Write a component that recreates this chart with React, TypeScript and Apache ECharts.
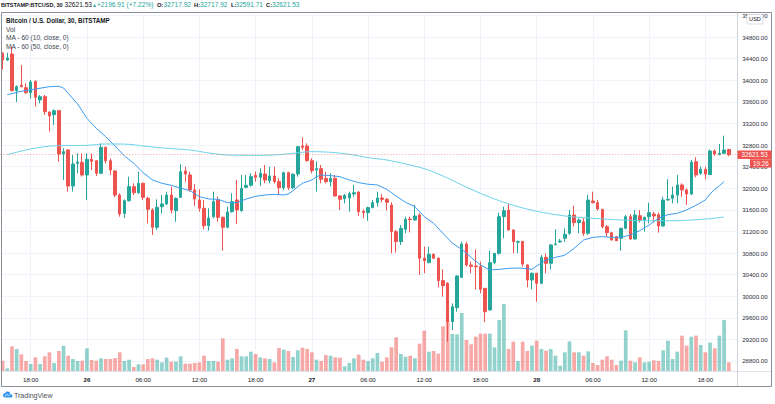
import React, { useEffect, useRef } from 'react';
import * as echarts from 'echarts';

// ---- data (30-minute candles, 25 Jan 15:00 → 28 Jan 20:30) ----
const opens = [
  34498, 34375, 34486, 33806, 33906, 33862, 33769, 33980, 33634, 33695,
  33411, 33362, 33436, 32634, 32708, 32041, 32461, 32480, 32245, 32535,
  32510, 32276, 32757, 32510, 32319, 31874, 31534, 31769, 32029, 31917,
  32091, 31813, 31597, 31276, 31658, 31708, 31874, 31584, 31831, 32319,
  32245, 31967, 31782, 31628, 31306, 31473, 31782, 31461, 31276, 31565,
  31782, 31584, 32016, 32053, 32239, 32202, 32263, 32140, 32226, 32121,
  32010, 32288, 32010, 32263, 32782, 32782, 32510, 32337, 32362, 32183,
  32121, 32183, 31856, 31807, 31819, 31893, 31930, 31572, 31547, 31640,
  31732, 31819, 31794, 31689, 31195, 31010, 31239, 31430, 31411, 31504,
  30702, 30621, 30776, 30702, 30288, 30239, 29528, 29787, 30350, 30967,
  30578, 30560, 30547, 30146, 29745, 30621, 30794, 31473, 31597, 31226,
  31000, 31016, 30578, 30300, 30424, 30239, 30720, 30609, 30955, 31004,
  31072, 31165, 31504, 31362, 31380, 31165, 31763, 31732, 31609, 31288,
  31177, 31103, 31072, 31257, 31473, 31059, 31491, 31411, 31473, 31522,
  31510, 31300, 31782, 31813, 31874, 32060, 31967, 31893, 32491, 32276,
  32350, 32251, 32689, 32621, 32646, 32717.92,
];
const closes = [
  34375, 34412, 33806, 33880, 33880, 33769, 33967, 33684, 33695, 33417,
  33337, 33436, 32634, 32677, 32041, 32448, 32485, 32245, 32535, 32498,
  32276, 32757, 32510, 32337, 31874, 31522, 31769, 32029, 31917, 32091,
  31831, 31609, 31276, 31646, 31708, 31874, 31597, 31813, 32306, 32263,
  31967, 31800, 31628, 31306, 31448, 31751, 31461, 31276, 31559, 31751,
  31597, 31998, 32053, 32214, 32202, 32276, 32152, 32226, 32121, 32010,
  32288, 32010, 32257, 32769, 32757, 32510, 32325, 32362, 32165, 32121,
  32183, 31856, 31794, 31868, 31899, 31917, 31565, 31547, 31640, 31732,
  31819, 31794, 31739, 31195, 31010, 31257, 31424, 31420, 31485, 30702,
  30658, 30776, 30702, 30288, 30195, 29528, 29806, 30374, 30967, 30578,
  30553, 30547, 30128, 29713, 30621, 30794, 31473, 31584, 31226, 31010,
  31010, 30596, 30300, 30424, 30239, 30720, 30609, 30948, 30967, 31022,
  31146, 31504, 31362, 31411, 31165, 31782, 31732, 31615, 31288, 31177,
  31041, 31028, 31257, 31473, 31059, 31504, 31411, 31461, 31547, 31485,
  31300, 31782, 31794, 31874, 32060, 31967, 31893, 32480, 32245, 32350,
  32263, 32689, 32634, 32646, 32708, 32621.53,
];
const lows = [
  34202, 34360, 33790, 33597, 33870, 33745, 33658, 33510, 33572, 33356,
  33047, 33171, 32491, 32152, 31936, 31936, 32276, 32214, 31782, 32337,
  32226, 32263, 32461, 32245, 31831, 31473, 31443, 31751, 31874, 31893,
  31782, 31350, 31134, 31226, 31534, 31689, 31534, 31380, 31820, 32121,
  31936, 31671, 31565, 31239, 31214, 31443, 31380, 30843, 31260, 31547,
  31337, 31565, 31998, 32029, 32121, 32041, 32091, 32091, 32091, 31874,
  31967, 31967, 31979, 32214, 32708, 32491, 32276, 31936, 32091, 32091,
  32029, 31843, 31597, 31720, 31565, 31843, 31485, 31443, 31398, 31628,
  31658, 31739, 31584, 30794, 30806, 30948, 31165, 31183, 31400, 30393,
  30424, 30609, 30690, 30164, 29991, 29157, 29374, 29713, 30340, 30547,
  30424, 30121, 30054, 29516, 29740, 30590, 30770, 31072, 31220, 30794,
  30794, 30547, 30164, 30128, 29898, 30230, 30424, 30498, 30940, 30990,
  31010, 31134, 31288, 31165, 31115, 31134, 31720, 31584, 31257, 31103,
  31030, 31022, 30843, 31240, 31041, 31050, 31362, 31195, 31350, 31362,
  31177, 31288, 31763, 31720, 31720, 31843, 31689, 31874, 32202, 32245,
  32165, 32245, 32597, 32610, 32640, 32591.71,
];
const highs = [
  34520, 34510, 34621, 33906, 34282, 33943, 34004, 33995, 33726, 33726,
  33420, 33460, 33450, 32739, 32720, 32615, 32646, 32646, 32646, 32646,
  32523, 32831, 32769, 32554, 32337, 31905, 31794, 32214, 32091, 32306,
  32103, 31843, 31628, 31794, 31874, 31936, 32029, 31830, 32448, 32399,
  32306, 32078, 31979, 31782, 31628, 31936, 31843, 31473, 31658, 31905,
  32152, 32245, 32245, 32276, 32306, 32368, 32430, 32399, 32399, 32183,
  32306, 32306, 32276, 32782, 32942, 32831, 32554, 32497, 32430, 32306,
  32276, 32245, 31874, 31893, 31936, 32060, 31936, 31609, 31658, 31782,
  31936, 31893, 31819, 31739, 31226, 31319, 31473, 31473, 31689, 31535,
  30917, 30917, 30794, 30720, 30500, 30260, 29868, 30390, 31010, 31010,
  30640, 30869, 30640, 30150, 30843, 30800, 31547, 31658, 31708, 31240,
  31030, 31016, 30590, 30440, 30430, 30763, 30794, 30967, 31239, 31060,
  31257, 31597, 31676, 31443, 31443, 31874, 31936, 31782, 31615, 31319,
  31190, 31115, 31270, 31504, 31522, 31597, 31597, 31470, 31732, 31565,
  31547, 31843, 32165, 32029, 32245, 32091, 31998, 32523, 32572, 32399,
  32399, 32720, 32720, 32819, 32973, 32717.92,
];
const volumes = [
  155, 40, 370, 330, 250, 150, 105, 205, 105, 220,
  280, 120, 300, 380, 230, 180, 150, 155, 340, 165,
  155, 190, 180, 180, 195, 280, 150, 170, 60, 100,
  100, 180, 190, 170, 130, 200, 140, 140, 220, 110,
  110, 120, 130, 230, 150, 150, 140, 490, 170, 190,
  330, 220, 220, 290, 255, 205, 190, 180, 130, 345,
  320, 300, 210, 310, 350, 330, 280, 170, 150, 240,
  230, 205, 200, 70, 120, 190, 245, 170, 150, 190,
  270, 140, 205, 355, 505, 255, 215, 230, 190, 410,
  605, 290, 300, 260, 670, 755, 555, 550, 870, 465,
  400, 515, 560, 560, 560, 355, 765, 1005, 330, 440,
  150, 440, 300, 380, 455, 330, 305, 330, 230, 80,
  280, 445, 280, 280, 230, 295, 120, 90, 170, 220,
  170, 90, 155, 610, 155, 130, 205, 130, 140, 160,
  150, 310, 455, 180, 290, 530, 380, 515, 530, 390,
  280, 425, 340, 530, 765, 130,
];
const ma10 = [
  [1, 33732], [4, 33794], [7, 33837], [10, 33880], [12, 33887], [13, 33856], [14, 33757],
  [16, 33560], [18, 33294], [20, 33109], [22, 32954], [24, 32782], [26, 32597], [28, 32461],
  [30, 32288], [32, 32152], [34, 32091], [36, 32053], [38, 32004], [40, 31954], [42, 31843],
  [44, 31800], [46, 31794], [48, 31732], [50, 31732], [52, 31800], [54, 31850], [56, 31874],
  [58, 31887], [60, 31874], [61, 31893], [62, 31954], [63, 32029], [64, 32091], [66, 32152],
  [67, 32214], [68, 32245], [70, 32233], [72, 32214], [74, 32152], [76, 32103], [78, 32073],
  [80, 32060], [82, 31979], [84, 31856], [86, 31739], [88, 31658], [90, 31473], [92, 31350],
  [94, 31165], [96, 30980], [98, 30869], [100, 30720], [102, 30578], [104, 30485], [106, 30497],
  [108, 30516], [110, 30522], [112, 30510], [113, 30497], [114, 30559], [116, 30670], [118, 30720],
  [120, 30758], [122, 30887], [124, 31041], [126, 31090], [128, 31103], [130, 31090], [132, 31090],
  [134, 31134], [136, 31214], [138, 31319], [140, 31443], [142, 31510], [144, 31534], [146, 31597],
  [148, 31683], [150, 31782], [151, 31893], [152, 31979], [153, 32047], [154, 32121],
];
const ma50 = [
  [1, 32621], [5, 32708], [9, 32770], [12, 32788], [18, 32794], [22, 32819], [27, 32813],
  [30, 32782], [35, 32739], [40, 32708], [44, 32652], [48, 32615], [54, 32609], [58, 32615],
  [62, 32646], [66, 32677], [70, 32665], [74, 32628], [78, 32566], [79, 32553], [82, 32523],
  [86, 32448], [90, 32362], [94, 32226], [98, 32060], [102, 31905], [106, 31769], [110, 31658],
  [114, 31572], [119, 31498], [122, 31467], [126, 31443], [132, 31411], [138, 31398], [144, 31398],
  [148, 31417], [151, 31436], [154, 31467],
];
const priceTicks = [28800, 29200, 29600, 30000, 30400, 30800, 31200, 31600, 32000, 32400, 32800, 33200, 33600, 34000, 34400, 34800, 35200];
const timeTickIdx = [6, 18, 30, 42, 54, 66, 78, 90, 102, 114, 126, 138, 150];
const timeTickLabels = ['18:00', '26', '06:00', '12:00', '18:00', '27', '06:00', '12:00', '18:00', '28', '06:00', '12:00', '18:00'];
const dayLabels = ['26', '27', '28'];
const changeText = '+2196.91 (+7.22%)';
const countdown = '19:26';

const FONT = '"Liberation Sans", Arial, sans-serif';
const UP = '#26a69a';
const DOWN = '#ef5350';

const CLOUD_D =
  'M5 12 C2 12 0 10 0 7.5 C0 5 2 3.5 4.5 3.5 C5.5 1.2 7.5 0 10 0 C13 0 15.5 2 16 5 C18.5 5.2 20 7 20 8.8 C20 10.8 18.3 12 16.5 12 Z';
echarts.graphic.registerShape('tvcloud', echarts.graphic.extendPath(CLOUD_D, {}));

function txt(x: number, y: number, text: string, color: string, size: number, bold = false, align = 'left') {
  return {
    type: 'text',
    x,
    y,
    z: 100,
    silent: true,
    style: {
      text,
      fill: color,
      fontSize: size,
      fontWeight: bold ? 'bold' : 'normal',
      fontFamily: FONT,
      align,
      verticalAlign: 'middle',
    },
  };
}

export default function App() {
  const ref = useRef<HTMLDivElement>(null);

  useEffect(() => {
    document.body.style.margin = '0';
    const chart = echarts.init(ref.current!, null, { renderer: 'svg' });
    const last = opens.length - 1;
    const lastPrice = closes[last];

    const candleData = opens.map((o, i) => [i, o, closes[i], lows[i], highs[i]]);
    const volData = volumes.map((v, i) => ({
      value: [i, v],
      itemStyle: { color: closes[i] >= opens[i] ? 'rgba(38,166,154,0.5)' : 'rgba(239,83,80,0.5)' },
    }));

    // pixel position of the last price on the price scale (grid top 12, height 359)
    const yMin = 28614.8;
    const yMax = 35263;
    const lastY = 12 + ((yMax - lastPrice) / (yMax - yMin)) * 359;

    const dark = '#131722';
    const header = [
      txt(1, 4.7, 'BITSTAMP:BTCUSD, 30', dark, 5.5, true),
      txt(64.5, 4.7, lastPrice.toFixed(2), dark, 6.6),
      txt(92, 4.5, '▲', UP, 5),
      txt(97, 4.7, changeText, UP, 6.6),
      txt(157, 4.7, 'O:', dark, 5.8, true),
      txt(163.5, 4.7, opens[last].toFixed(2), UP, 6.6),
      txt(194, 4.7, 'H:', dark, 5.8, true),
      txt(200, 4.7, highs[last].toFixed(2), UP, 6.6),
      txt(231, 4.7, 'L:', dark, 5.8, true),
      txt(235.5, 4.7, lows[last].toFixed(2), UP, 6.6),
      txt(266, 4.7, 'C:', dark, 5.8, true),
      txt(272, 4.7, lastPrice.toFixed(2), UP, 6.6),
    ];
    const legend = [
      txt(6, 20, 'Bitcoin / U.S. Dollar, 30, BITSTAMP', dark, 6.3, true),
      txt(6, 29, 'Vol', '#434651', 6.6),
      txt(6, 37.8, 'MA - 60 (10, close, 0)', '#434651', 6.6),
      txt(6, 46.8, 'MA - 60 (50, close, 0)', '#434651', 6.6),
    ];

    const frame = [
      { type: 'line', z: 90, silent: true, shape: { x1: 1.5, y1: 371.5, x2: 771.5, y2: 371.5 }, style: { stroke: '#e0e3eb', lineWidth: 1 } },
      { type: 'line', z: 90, silent: true, shape: { x1: 737.5, y1: 12.5, x2: 737.5, y2: 386.5 }, style: { stroke: '#d1d4dc', lineWidth: 1 } },
      { type: 'rect', z: 91, silent: true, shape: { x: 1.5, y: 12.5, width: 770, height: 374 }, style: { fill: 'none', stroke: '#8c8f98', lineWidth: 1 } },
    ];
    const boxes = [
      { type: 'rect', z: 100, silent: true, shape: { x: 747, y: 14.5, width: 16, height: 9.5, r: 1 }, style: { fill: '#ffffff', stroke: '#d1d4dc', lineWidth: 0.8 } },
      txt(755, 19.3, 'USD', dark, 5.6, false, 'center'),
      { type: 'rect', z: 100, silent: true, shape: { x: 737.5, y: lastY - 4.2, width: 34, height: 8.6 }, style: { fill: DOWN } },
      txt(754.5, lastY + 0.2, lastPrice.toFixed(2), '#ffffff', 6.3, false, 'center'),
      { type: 'rect', z: 100, silent: true, shape: { x: 750, y: lastY + 4.6, width: 21.5, height: 8.3 }, style: { fill: DOWN } },
      txt(760.8, lastY + 8.9, countdown, '#ffffff', 6.3, false, 'center'),
    ];
    const logo = [
      { type: 'tvcloud', z: 100, silent: true, x: 3, y: 391.5, scaleX: 0.47, scaleY: 0.5, style: { fill: '#2e96ef' } },
      { type: 'polyline', z: 101, silent: true, shape: { points: [[5, 396.2], [7, 394.3], [8.6, 395.6], [11, 393.4]] }, style: { stroke: '#ffffff', lineWidth: 0.8, fill: 'none' } },
      txt(14, 395, 'TradingView', '#4c4f58', 7),
    ];

    chart.setOption({
      animation: false,
      backgroundColor: '#ffffff',
      grid: { left: 0.26, right: 36.84, top: 12, bottom: 33, containLabel: false },
      xAxis: {
        type: 'value',
        min: -0.5,
        max: 157,
        axisLine: { show: false },
        axisTick: { show: false, customValues: timeTickIdx },
        axisLabel: {
          customValues: timeTickIdx,
          fontSize: 6.2,
          fontFamily: FONT,
          color: dark,
          margin: 5.5,
          formatter: (v: number) => {
            const k = timeTickIdx.indexOf(Math.round(v));
            const s = k >= 0 ? timeTickLabels[k] : '';
            return dayLabels.includes(s) ? '{d|' + s + '}' : s;
          },
          rich: { d: { fontWeight: 'bold', fontSize: 6.2, fontFamily: FONT, color: dark } },
        },
        splitLine: { show: true, lineStyle: { color: '#f0f3fa', width: 1 } },
      },
      yAxis: [
        {
          type: 'value',
          position: 'right',
          min: yMin,
          max: yMax,
          axisLine: { show: false },
          axisTick: { show: false, customValues: priceTicks },
          axisLabel: {
            customValues: priceTicks,
            fontSize: 6.1,
            fontFamily: FONT,
            color: '#2a2e39',
            margin: 4,
            formatter: (v: number) => v.toFixed(2),
          },
          splitLine: { show: true, lineStyle: { color: '#f0f3fa', width: 1 } },
        },
        { type: 'value', min: 0, max: 5385, show: false, splitLine: { show: false } },
      ],
      series: [
        {
          type: 'bar',
          name: 'Vol',
          xAxisIndex: 0,
          yAxisIndex: 1,
          barWidth: 3.7,
          data: volData,
          silent: true,
        },
        {
          type: 'candlestick',
          name: 'BTCUSD',
          xAxisIndex: 0,
          yAxisIndex: 0,
          barWidth: 3,
          data: candleData,
          itemStyle: { color: UP, color0: DOWN, borderColor: UP, borderColor0: DOWN, borderWidth: 1 },
          markLine: {
            silent: true,
            symbol: ['none', 'none'],
            data: [{ yAxis: lastPrice }],
            lineStyle: { color: DOWN, type: [1, 2], width: 1, opacity: 0.55 },
            label: { show: false },
          },
        },
        {
          type: 'line',
          name: 'MA 10',
          data: ma10,
          showSymbol: false,
          symbol: 'none',
          silent: true,
          lineStyle: { color: '#3a9bf0', width: 1 },
        },
        {
          type: 'line',
          name: 'MA 50',
          data: ma50,
          showSymbol: false,
          symbol: 'none',
          smooth: 0.3,
          silent: true,
          lineStyle: { color: '#6dd2e8', width: 1 },
        },
      ],
      graphic: { elements: [...frame, ...boxes, ...header, ...legend, ...logo] },
    });

    return () => chart.dispose();
  }, []);

  return <div ref={ref} style={{ position: 'absolute', left: 0, top: 0, width: 775, height: 404 }} />;
}
